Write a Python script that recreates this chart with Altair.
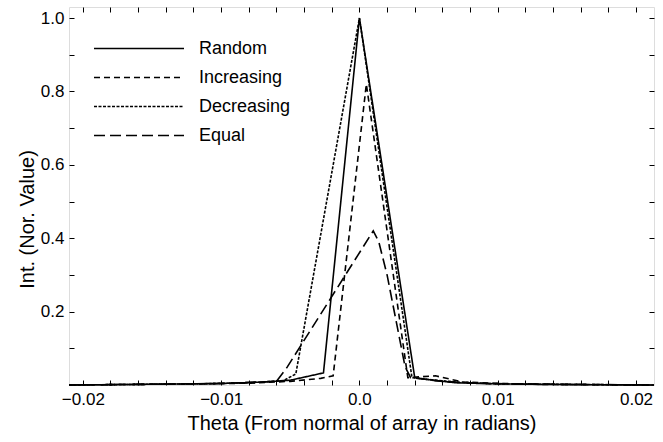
import altair as alt
import pandas as pd

# ---- data ----
series_names = ["Random", "Increasing", "Decreasing", "Equal"]

random_x = [-0.021, -0.015, -0.01, -0.007, -0.005, -0.0026, 0.0, 0.004, 0.0055, 0.007, 0.01, 0.015, 0.0213]
random_y = [0.0, 0.002, 0.004, 0.008, 0.013, 0.033, 1.0, 0.02, 0.012, 0.006, 0.003, 0.001, 0.0]

increasing_x = [-0.021, -0.012, -0.008, -0.005, -0.0028, -0.0019, 0.0005, 0.0035, 0.0055, 0.0075, 0.012, 0.0213]
increasing_y = [0.0, 0.003, 0.005, 0.01, 0.018, 0.025, 0.82, 0.02, 0.025, 0.008, 0.002, 0.0]

decreasing_x = [-0.021, -0.012, -0.008, -0.0055, -0.0046, 0.0, 0.0038, 0.005, 0.007, 0.01, 0.0213]
decreasing_y = [0.0, 0.003, 0.006, 0.012, 0.03, 1.0, 0.02, 0.015, 0.008, 0.003, 0.0]

equal_x = [-0.021, -0.01, -0.006, -0.0052, 0.001, 0.0014, 0.002, 0.0033, 0.0037, 0.006, 0.009, 0.0213]
equal_y = [0.0, 0.004, 0.01, 0.05, 0.42, 0.39, 0.3, 0.05, 0.02, 0.01, 0.004, 0.0]

x_major = [-0.02, -0.01, 0.0, 0.01, 0.02]
y_major = [0.2, 0.4, 0.6, 0.8, 1.0]
x_minor = [round(-0.02 + 0.002 * i, 4) for i in range(21)]
y_minor = [round(0.1 * i, 2) for i in range(1, 11)]

rows = []
for name, xs, ys in [("Random", random_x, random_y),
                     ("Increasing", increasing_x, increasing_y),
                     ("Decreasing", decreasing_x, decreasing_y),
                     ("Equal", equal_x, equal_y)]:
    for i, (a, b) in enumerate(zip(xs, ys)):
        rows.append({"series": name, "theta": a, "intensity": b, "order": i})
df = pd.DataFrame(rows)

FONT = "Liberation Sans"
XDOM = [-0.021, 0.0213]
YDOM = [0.0, 1.03]

xscale = alt.Scale(domain=XDOM, nice=False, zero=False)
yscale = alt.Scale(domain=YDOM, nice=False, zero=False)

lines = alt.Chart(df).mark_line(color="black", strokeWidth=1.6).encode(
    x=alt.X("theta:Q", scale=xscale,
            axis=alt.Axis(orient="bottom", values=x_major, ticks=False, domain=False, grid=False,
                          labelExpr="datum.value == 0 ? '0.0' : format(datum.value, '.2f')",
                          labelFont=FONT, labelFontSize=17, labelColor="black", labelPadding=6,
                          labelFlush=False,
                          title="Theta (From normal of array in radians)",
                          titleFont=FONT, titleFontSize=20, titleFontWeight="normal",
                          titleColor="black", titlePadding=6)),
    y=alt.Y("intensity:Q", scale=yscale,
            axis=alt.Axis(orient="left", values=y_major, ticks=False, domain=False, grid=False,
                          format=".1f", labelFont=FONT, labelFontSize=17, labelColor="black",
                          labelPadding=5, labelFlush=False,
                          title="Int. (Nor. Value)", titleFont=FONT, titleFontSize=20,
                          titleFontWeight="normal", titleColor="black", titlePadding=3,
                          titleY=212)),
    strokeDash=alt.StrokeDash("series:N",
                              scale=alt.Scale(domain=series_names,
                                              range=[[1, 0], [6, 4], [3, 1.5], [11, 5]]),
                              legend=alt.Legend(orient="none", legendX=24, legendY=27, title=None,
                                                symbolType="stroke", symbolSize=8100,
                                                symbolStrokeWidth=1.6, symbolStrokeColor="black",
                                                labelFont=FONT, labelFontSize=18, labelColor="black",
                                                labelOffset=14, clipHeight=29, rowPadding=0,
                                                padding=0)),
    order="order:Q",
    detail="series:N",
)

tick_df = pd.DataFrame({"theta": [XDOM[0]], "intensity": [YDOM[0]]})

def tick_layer(xorient, yorient):
    return alt.Chart(tick_df).mark_point(opacity=0).encode(
        x=alt.X("theta:Q", scale=xscale,
                axis=alt.Axis(orient=xorient, values=x_minor, labels=False, title=None,
                              domain=False, grid=False, offset=-5, tickSize=5,
                              tickColor="black", tickWidth=1)),
        y=alt.Y("intensity:Q", scale=yscale,
                axis=alt.Axis(orient=yorient, values=y_minor, labels=False, title=None,
                              domain=False, grid=False, offset=-5, tickSize=5,
                              tickColor="black", tickWidth=1)),
    )

chart = alt.layer(
    lines,
    tick_layer("top", "right"),
    tick_layer("bottom", "left"),
).resolve_axis(x="independent", y="independent").properties(
    width=585, height=378,
    autosize=alt.AutoSizeParams(type="none"),
    padding={"left": 69, "top": 7, "right": 9, "bottom": 57},
).configure_view(stroke="black", strokeWidth=1.6).configure(background="white")

chart.save("out.html", embed_options={"renderer": "svg", "actions": False})
